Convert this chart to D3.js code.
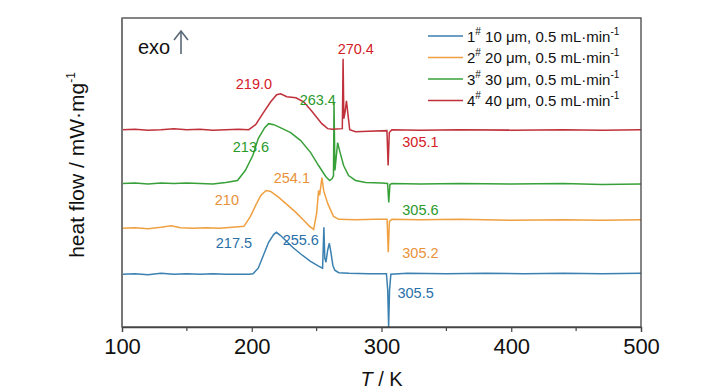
<!DOCTYPE html>
<html>
<head>
<meta charset="utf-8">
<script src="https://cdn.jsdelivr.net/npm/d3@7"></script>
<style>
  body { margin: 0; background: #fff; }
  svg text { font-family: "Liberation Sans", Arial, sans-serif; }
</style>
</head>
<body>
<div id="chart"></div>
<script>
// temperature (K) and heat flow (arbitrary offset units)
const t1 = [100,110,120,130,140,150,160,170,180,190,198,201,205,209,213,217,219,222,226,231.5,238,245,251.5,254.6,255.6,256.3,257.2,258.5,259.8,261,262.5,264,267,275,290,303.8,304.8,305.5,306.2,307.2,320,350,380,410,440,470,500];
const hf1 = [5.3,5.35,5.25,5.4,5.3,5.35,5.3,5.35,5.3,5.3,5.3,5.35,5.9,7.2,8.5,9.3,9.5,9.2,8.7,8.0,7.3,6.6,6.1,5.9,10.0,6.9,6.5,7.7,8.4,7.5,6.2,5.7,5.45,5.4,5.35,5.35,3.7,0.0,3.7,5.3,5.4,5.35,5.4,5.35,5.4,5.35,5.4];

const t2 = [100,110,120,130,138,145,155,165,175,185,194,199,203,207,211,214.6,220.8,227,234,240,244.6,247.7,250,251.5,252.3,254.1,255.4,258.5,263,267,280,295,304.3,305.2,306.1,308,330,360,400,440,470,500];
const hf2 = [9.9,9.95,9.85,10.0,10.15,9.95,9.9,9.95,9.9,10.0,10.1,11.1,12.2,13.2,13.7,13.6,13.0,12.3,11.5,10.7,10.1,9.8,11.4,13.7,13.2,15.0,13.7,12.4,11.1,10.8,10.75,10.8,10.8,7.5,10.6,10.8,10.75,10.8,10.7,10.75,10.7,10.75];

const t3 = [100,110,120,130,140,150,160,170,180,189,195,200.8,205,210,213,217,222,230,237.7,245.4,251.5,257,260,262,263,263.4,264.1,265,266.2,267.7,270.8,274.6,280,287.7,300,304.7,305.6,306.5,308,330,360,400,440,470,500];
const hf3 = [14.4,14.45,14.35,14.45,14.4,14.45,14.4,14.35,14.5,14.7,15.7,17.2,18.9,20.0,20.4,20.3,20.0,19.5,18.7,17.5,16.2,15.1,14.7,14.9,15.2,22.5,15.7,16.9,18.5,17.7,16.2,15.2,14.7,14.5,14.45,14.4,12.5,14.3,14.4,14.35,14.4,14.35,14.4,14.3,14.35];

const t4 = [100,110,120,130,140,150,160,170,180,190,197.7,203,208.5,214.6,219.2,222.3,227,234,240,246,254,258.5,262,269.8,270.4,271,272,273,274,275.5,280,290,304.2,305.1,306,308,330,360,400,440,470,500];
const hf4 = [19.8,19.85,19.75,19.8,19.9,19.8,19.85,19.75,19.8,19.85,19.8,20.3,21.4,22.6,23.3,23.4,23.1,23.0,22.6,21.7,20.4,19.9,19.85,19.9,26.9,20.9,21.6,22.7,21.5,19.8,19.6,19.65,19.7,16.2,19.5,19.8,19.75,19.8,19.75,19.8,19.75,19.8];

const seriesNames = ["1", "2", "3", "4"];
const sizes = ["10", "20", "30", "40"];
const colors = ["#3a80b0", "#f0a040", "#38a038", "#c0303a"];
const labelColors = ["#2a70a8", "#e8923a", "#2a9a2a", "#d42028"];

// peak annotations: series index, text, T and heat flow where the label sits
const peakSeries = [3, 3, 2, 2, 1, 1, 0, 0, 3, 2, 1, 0];
const peakText = ["219.0", "270.4", "213.6", "263.4", "210", "254.1", "217.5", "255.6", "305.1", "305.6", "305.2", "305.5"];
const peakT = [187.7, 266.2, 185.4, 236.9, 171.5, 216.9, 172.3, 223.8, 316, 316, 316, 312.3];
const peakHF = [23.9, 27.4, 17.6, 22.3, 12.2, 14.4, 7.9, 8.2, 18.1, 11.2, 6.9, 2.9];

const xTicks = [100, 200, 300, 400, 500];
const xMinor = [150, 250, 350, 450];

const W = 728, H = 390;
const margin = { top: 18, right: 87, bottom: 63, left: 122 };

const svg = d3.select("#chart").append("svg")
  .attr("width", W).attr("height", H);

const x = d3.scaleLinear().domain([100, 500]).range([margin.left, W - margin.right]);
const y = d3.scaleLinear().domain([0, 31]).range([H - margin.bottom, margin.top]);

const line = d3.line()
  .x(d => x(d[0]))
  .y(d => y(d[1]));

const allT = [t1, t2, t3, t4];
const allHF = [hf1, hf2, hf3, hf4];

allT.forEach((ts, i) => {
  const pts = ts.map((t, k) => [t, allHF[i][k]]);
  svg.append("path")
    .datum(pts)
    .attr("fill", "none")
    .attr("stroke", colors[i])
    .attr("stroke-width", 1.5)
    .attr("d", line);
});

// frame
svg.append("rect")
  .attr("x", margin.left).attr("y", margin.top)
  .attr("width", W - margin.left - margin.right)
  .attr("height", H - margin.top - margin.bottom)
  .attr("fill", "none")
  .attr("stroke", "#444")
  .attr("stroke-width", 1.3);

svg.append("line")
  .attr("x1", margin.left).attr("x2", margin.left)
  .attr("y1", margin.top).attr("y2", H - margin.bottom)
  .attr("stroke", "#777").attr("stroke-width", 2);

// x axis
const xAxis = svg.append("g")
  .attr("transform", `translate(0,${H - margin.bottom})`)
  .call(d3.axisBottom(x).tickValues(xTicks).tickSize(5).tickPadding(6).tickFormat(d3.format("d")));
xAxis.select(".domain").attr("stroke", "#444").attr("stroke-width", 1.3);
xAxis.selectAll(".tick line").attr("stroke", "#444").attr("stroke-width", 1.2);
xAxis.selectAll("text").attr("font-size", 22).attr("fill", "#111")
  .attr("font-family", "'Liberation Sans', Arial, sans-serif");

svg.append("g")
  .attr("transform", `translate(0,${H - margin.bottom})`)
  .selectAll("line").data(xMinor).join("line")
  .attr("x1", d => x(d)).attr("x2", d => x(d))
  .attr("y1", 0).attr("y2", 4)
  .attr("stroke", "#444").attr("stroke-width", 1.2);

// x title
const xt = svg.append("text")
  .attr("x", x(300)).attr("y", 386)
  .attr("text-anchor", "middle")
  .attr("font-size", 20).attr("fill", "#111");
xt.append("tspan").attr("font-style", "italic").text("T");
xt.append("tspan").text(" / K");

// y title
const yt = svg.append("text")
  .attr("transform", "translate(84,165) rotate(-90)")
  .attr("text-anchor", "middle")
  .attr("font-size", 21).attr("fill", "#111");
yt.append("tspan").text("heat flow / mW·mg");
yt.append("tspan").attr("font-size", 12).attr("dy", -9).text("-1");

// exo arrow
svg.append("text")
  .attr("x", 138).attr("y", 54)
  .attr("font-size", 20).attr("fill", "#111")
  .text("exo");
svg.append("line")
  .attr("x1", 181).attr("x2", 181)
  .attr("y1", 54).attr("y2", 32)
  .attr("stroke", "#5a6878").attr("stroke-width", 1.6);
svg.append("path")
  .attr("d", "M174,40 L181,31 L188,40")
  .attr("fill", "none")
  .attr("stroke", "#5a6878").attr("stroke-width", 1.6);

// legend
const legend = svg.append("g");
seriesNames.forEach((n, i) => {
  const ly = 36 + i * 21.5;
  legend.append("line")
    .attr("x1", 428).attr("x2", 463)
    .attr("y1", ly).attr("y2", ly)
    .attr("stroke", colors[i]).attr("stroke-width", 1.5);
  const tx = legend.append("text")
    .attr("x", 467).attr("y", ly + 5.5)
    .attr("font-size", 15).attr("fill", "#111");
  tx.append("tspan").text(n);
  tx.append("tspan").attr("font-size", 10).attr("dy", -7).text("#");
  tx.append("tspan").attr("dy", 7).text(` ${sizes[i]} μm, 0.5 mL·min`);
  tx.append("tspan").attr("font-size", 10).attr("dy", -7).text("-1");
});

// peak labels
svg.append("g")
  .selectAll("text").data(peakText).join("text")
  .attr("x", (d, i) => x(peakT[i]))
  .attr("y", (d, i) => y(peakHF[i]))
  .attr("font-size", 14.5)
  .attr("fill", (d, i) => labelColors[peakSeries[i]])
  .text(d => d);
</script>
</body>
</html>
